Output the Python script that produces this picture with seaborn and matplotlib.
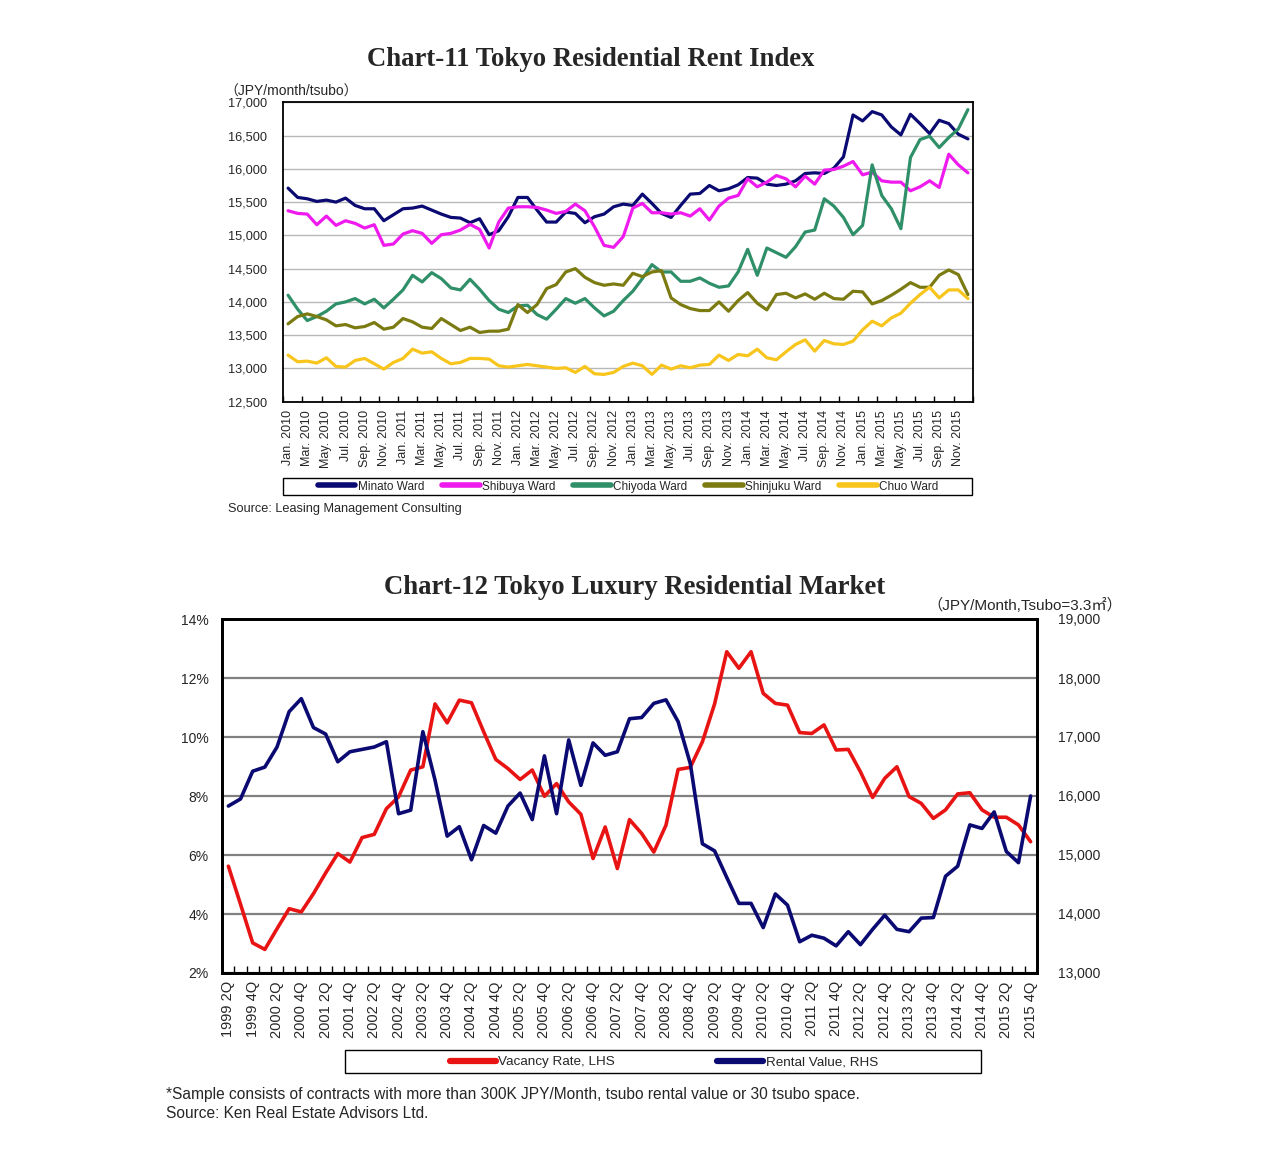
import numpy as np
import pandas as pd
import matplotlib
matplotlib.use("Agg")
import matplotlib.pyplot as plt
import seaborn as sns
from matplotlib.patches import Rectangle
from matplotlib.lines import Line2D

# ---------------- Chart-11 data (monthly, Jan 2010 - Dec 2015) ----------------
years11 = [2010, 2011, 2012, 2013, 2014, 2015]
month_abbr = ["Jan.", "Mar.", "May.", "Jul.", "Sep.", "Nov."]
rent_ticklabels = [f"{m} {y}" for y in years11 for m in month_abbr]

wards = ["Minato Ward", "Shibuya Ward", "Chiyoda Ward", "Shinjuku Ward", "Chuo Ward"]
ward_colors = ["#0a0a72", "#ee1aee", "#2f8f68", "#7b7b12", "#f7c51c"]

minato = [15710, 15570, 15550, 15510, 15530, 15500, 15560, 15450, 15400, 15400,
          15220, 15310, 15400, 15410, 15440, 15380, 15320, 15270, 15260, 15190,
          15250, 15010, 15070, 15280, 15570, 15570, 15380, 15200, 15200, 15350,
          15330, 15190, 15280, 15320, 15430, 15470, 15450, 15620, 15480, 15330,
          15270, 15450, 15620, 15630, 15750, 15670, 15700, 15760, 15870, 15860,
          15770, 15750, 15770, 15820, 15930, 15940, 15930, 16010, 16180, 16810,
          16720, 16860, 16810, 16630, 16510, 16820, 16680, 16530, 16730, 16680,
          16520, 16450]
shibuya = [15370, 15330, 15320, 15160, 15290, 15150, 15220, 15180, 15110, 15160,
           14850, 14870, 15020, 15070, 15030, 14880, 15010, 15030, 15080, 15165,
           15090, 14810, 15200, 15410, 15430, 15430, 15420, 15380, 15330, 15360,
           15470, 15370, 15130, 14850, 14820, 14980, 15410, 15480, 15340, 15340,
           15320, 15340, 15290, 15400, 15230, 15440, 15560, 15600, 15850, 15730,
           15800, 15900, 15850, 15730, 15890, 15770, 15980, 15990, 16040, 16110,
           15910, 15950, 15820, 15800, 15800, 15670, 15730, 15820, 15720, 16220,
           16060, 15940]
chiyoda = [14100, 13890, 13720, 13780, 13860, 13970, 14000, 14050, 13970, 14040,
           13910, 14040, 14180, 14400, 14300, 14440, 14350, 14210, 14180, 14340,
           14190, 14020, 13890, 13840, 13940, 13950, 13810, 13740, 13890, 14050,
           13980, 14050, 13910, 13790, 13860, 14020, 14160, 14350, 14560, 14450,
           14450, 14310, 14310, 14360, 14280, 14220, 14240, 14450, 14790, 14400,
           14810, 14740, 14670, 14830, 15050, 15080, 15550, 15440, 15270, 15010,
           15150, 16060, 15600, 15400, 15100, 16170, 16440, 16490, 16320, 16470,
           16600, 16890]
shinjuku = [13670, 13780, 13820, 13780, 13730, 13640, 13660, 13610, 13630, 13690,
            13590, 13620, 13750, 13700, 13620, 13600, 13750, 13660, 13570, 13620,
            13540, 13560, 13560, 13590, 13960, 13840, 13960, 14200, 14260, 14450,
            14500, 14370, 14290, 14250, 14270, 14250, 14430, 14380, 14450, 14470,
            14060, 13960, 13900, 13870, 13870, 14000, 13860, 14020, 14140, 13980,
            13880, 14110, 14130, 14060, 14120, 14040, 14130, 14050, 14040, 14160,
            14150, 13970, 14020, 14100, 14190, 14290, 14220, 14220, 14400, 14480,
            14410, 14110]
chuo = [13200, 13100, 13110, 13080, 13160, 13030, 13020, 13120, 13150, 13070,
        12990, 13090, 13150, 13290, 13230, 13250, 13150, 13070, 13090, 13150,
        13150, 13140, 13040, 13020, 13040, 13060, 13040, 13020, 13000, 13010,
        12940, 13030, 12920, 12910, 12940, 13030, 13080, 13040, 12910, 13050,
        12990, 13040, 13010, 13050, 13060, 13200, 13120, 13210, 13190, 13290,
        13160, 13130, 13250, 13360, 13430, 13260, 13420, 13370, 13360, 13410,
        13580, 13710, 13640, 13760, 13830, 13980, 14110, 14220, 14060, 14180,
        14180, 14050]

# ---------------- Chart-12 data (quarterly, 1999 2Q - 2015 4Q) ----------------
quarter_ticklabels = ["1999 2Q", "1999 4Q"] + [f"{y} {q}" for y in range(2000, 2016) for q in ("2Q", "4Q")]
vacancy = [5.62, 4.33, 3.02, 2.80, 3.50, 4.18, 4.07, 4.69, 5.39, 6.05,
           5.76, 6.59, 6.70, 7.57, 7.97, 8.88, 8.99, 11.12, 10.48, 11.25,
           11.16, 10.18, 9.24, 8.93, 8.56, 8.88, 7.99, 8.42, 7.80, 7.38,
           5.88, 6.95, 5.54, 7.20, 6.73, 6.10, 7.01, 8.90, 8.97, 9.84,
           11.12, 12.89, 12.33, 12.89, 11.48, 11.14, 11.08, 10.15, 10.12, 10.41,
           9.56, 9.58, 8.82, 7.95, 8.60, 8.99, 7.98, 7.75, 7.24, 7.53,
           8.07, 8.11, 7.53, 7.28, 7.28, 7.02, 6.45]
rental = [15830, 15950, 16420, 16490, 16830, 17430, 17650, 17160, 17050, 16580,
          16750, 16790, 16830, 16920, 15700, 15760, 17090, 16270, 15320, 15480,
          14920, 15500, 15370, 15830, 16050, 15600, 16680, 15700, 16950, 16180,
          16900, 16690, 16750, 17310, 17330, 17570, 17630, 17260, 16550, 15190,
          15070, 14620, 14180, 14180, 13770, 14340, 14150, 13530, 13640, 13590,
          13460, 13700, 13480, 13740, 13980, 13740, 13700, 13930, 13940, 14640,
          14810, 15510, 15450, 15730, 15060, 14870, 16000]
series12 = ["Vacancy Rate, LHS", "Rental Value, RHS"]
colors12 = ["#e81414", "#0a0a72"]

# ---------------- style ----------------
sns.set_theme(style="white")
plt.rcParams['font.family'] = ['Liberation Sans', 'Noto Sans CJK JP']

W, H = 1276, 1159
fig = plt.figure(figsize=(W / 100, H / 100), dpi=100)
fig.patch.set_facecolor("white")


def fx(px):
    return px / W


def fy(py):
    return 1 - py / H


# ================= Chart-11 =================
ax1 = fig.add_axes([fx(283.3), fy(401.7), (972.7 - 283.3) / W, (401.7 - 102.3) / H])
df11 = pd.DataFrame({"idx": np.arange(len(minato)),
                     wards[0]: minato, wards[1]: shibuya, wards[2]: chiyoda,
                     wards[3]: shinjuku, wards[4]: chuo})
df11 = df11.melt(id_vars="idx", var_name="ward", value_name="value")
sns.lineplot(data=df11, x="idx", y="value", hue="ward", hue_order=wards,
             palette=ward_colors, linewidth=2.3, legend=False, sort=False, ax=ax1)
ax1.set_xlim(-0.5, len(minato) - 0.5)
ax1.set_ylim(12500, 17000)
yt = np.arange(12500, 17001, 500)
ax1.set_yticks(yt)
ax1.set_yticklabels([f"{v:,}" for v in yt], fontsize=9.2)
ax1.set_xticks(np.arange(0, len(minato), 2))
ax1.set_xticklabels(rent_ticklabels, rotation=90, fontsize=9)
ax1.set_xticks(np.arange(-0.5, len(minato), 2), minor=True)
ax1.tick_params(axis="x", which="major", length=0, pad=6)
ax1.tick_params(axis="x", which="minor", bottom=True, direction="in", length=4, width=1, color="black")
ax1.tick_params(axis="y", length=0, pad=12)
ax1.grid(axis="y", color="#b8b8b8", linewidth=1)
ax1.grid(axis="x", visible=False)
ax1.set_axisbelow(True)
ax1.set_xlabel("")
ax1.set_ylabel("")
for s in ax1.spines.values():
    s.set_color("black")
    s.set_linewidth(1.3)

fig.text(fx(591), fy(59), "Chart-11 Tokyo Residential Rent Index", ha="center", va="center",
         fontsize=19.3, family="Liberation Serif", weight="bold")
fig.text(fx(224), fy(92), "（JPY/month/tsubo）", ha="left", va="center", fontsize=10,
         family=["Liberation Sans", "Noto Sans CJK JP"])

fig.add_artist(Rectangle((fx(283), fy(495)), 689 / W, 17 / H, transform=fig.transFigure,
                         fill=False, edgecolor="black", linewidth=1))
h11 = [Line2D([], [], color=c, lw=4, solid_capstyle="round") for c in ward_colors]
fig.legend(h11, wards, loc="center", bbox_to_anchor=(fx(628), fy(486.5)), ncol=5, frameon=False,
           fontsize=8.5, handlelength=3.2, handletextpad=0.2, columnspacing=1.5, borderpad=0)
fig.text(fx(228), fy(509), "Source: Leasing Management Consulting", ha="left", va="center", fontsize=9.2)

# ================= Chart-12 =================
ax2 = fig.add_axes([fx(222.3), fy(973), (1036.7 - 222.3) / W, (973 - 619) / H])
n12 = len(vacancy)
sns.lineplot(x=np.arange(n12), y=vacancy, color=colors12[0], linewidth=2.6, ax=ax2)
ax2r = ax2.twinx()
sns.lineplot(x=np.arange(n12), y=rental, color=colors12[1], linewidth=2.6, ax=ax2r)
ax2.set_xlim(-0.5, n12 - 0.5)
ax2.set_ylim(2, 14)
ax2r.set_ylim(13000, 19000)
lt = np.arange(2, 15, 2)
ax2.set_yticks(lt)
ax2.set_yticklabels([f"{v}%" for v in lt], fontsize=10)
rt = np.arange(13000, 19001, 1000)
ax2r.set_yticks(rt)
ax2r.set_yticklabels([f"{v:,}" for v in rt], fontsize=10)
ax2.set_xticks(np.arange(0, n12, 2))
ax2.set_xticklabels(quarter_ticklabels, rotation=90, fontsize=10.5)
ax2.set_xticks(np.arange(-0.5, n12, 1), minor=True)
ax2.tick_params(axis="x", which="major", length=0, pad=6)
ax2.tick_params(axis="x", which="minor", bottom=True, direction="in", length=5, width=1, color="black")
ax2.tick_params(axis="y", length=0, pad=10)
ax2r.tick_params(axis="y", length=0, pad=15)
ax2.grid(axis="y", color="#808080", linewidth=1.6)
ax2.grid(axis="x", visible=False)
ax2r.grid(False)
ax2.set_axisbelow(True)
for a in (ax2, ax2r):
    a.set_xlabel("")
    a.set_ylabel("")
    for s in a.spines.values():
        s.set_color("black")
        s.set_linewidth(2)

fig.text(fx(635), fy(588), "Chart-12 Tokyo Luxury Residential Market", ha="center", va="center",
         fontsize=19.3, family="Liberation Serif", weight="bold")
fig.text(fx(1122), fy(605), "（JPY/Month,Tsubo=3.3㎡）", ha="right", va="center", fontsize=11,
         family=["Liberation Sans", "Noto Sans CJK JP"])

fig.add_artist(Rectangle((fx(345), fy(1073)), 636 / W, 23 / H, transform=fig.transFigure,
                         fill=False, edgecolor="black", linewidth=1))
h12 = [Line2D([], [], color=c, lw=4.5, solid_capstyle="round") for c in colors12]
fig.legend(h12, series12, loc="center", bbox_to_anchor=(fx(664), fy(1062)), ncol=2, frameon=False,
           fontsize=9.7, handlelength=3.4, handletextpad=0.2, columnspacing=7.6, borderpad=0)
fig.text(fx(166), fy(1094),
         "*Sample consists of contracts with more than 300K JPY/Month, tsubo rental value or 30 tsubo space.",
         ha="left", va="center", fontsize=11.2)
fig.text(fx(166), fy(1113), "Source: Ken Real Estate Advisors Ltd.", ha="left", va="center", fontsize=11.2)

fig.savefig("out.png", dpi=100, facecolor="white")
